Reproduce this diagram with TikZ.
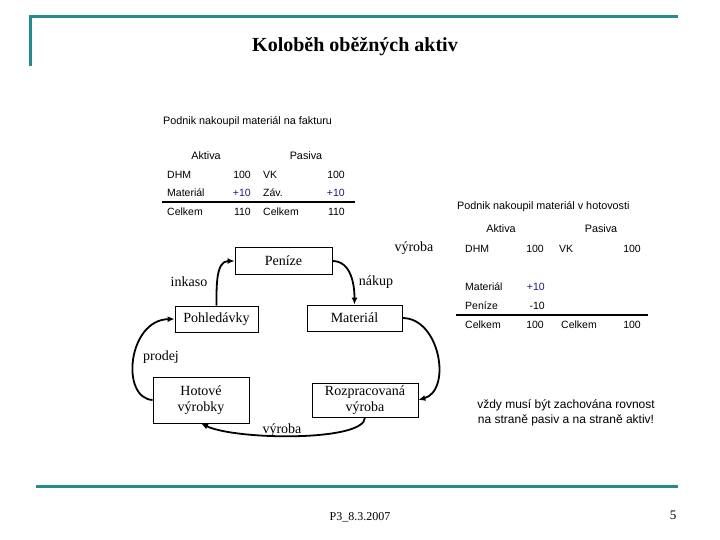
\documentclass[tikz,border=0pt]{standalone}
\usepackage{fontspec}
\setmainfont{Liberation Serif}
\newfontfamily\arialfont{Liberation Sans}
\usepackage{xcolor}
\usetikzlibrary{arrows.meta}

\definecolor{barteal}{RGB}{38,139,139}
\definecolor{numblue}{RGB}{30,30,110}

\begin{document}
\begin{tikzpicture}[
  x=1pt, y=-1pt,
  bar/.style     = {line width=3pt, barteal},
  stock/.style   = {rectangle, draw=black, line width=0.8pt, align=center,
                    inner sep=1pt, font=\fontsize{14}{16.5}\selectfont},
  flowlbl/.style = {inner sep=0pt, font=\fontsize{14}{16}\selectfont},
  captxt/.style  = {anchor=west, inner sep=0pt, font=\arialfont\fontsize{10.8}{12}\selectfont},
  head/.style    = {inner sep=0pt, font=\arialfont\fontsize{10.8}{12}\selectfont},
  cell/.style    = {anchor=west, inner sep=0pt, font=\arialfont\fontsize{10.5}{12}\selectfont},
  num/.style     = {anchor=east, inner sep=0pt, font=\arialfont\fontsize{10.5}{12}\selectfont},
  flow/.style    = {-{Latex[length=7pt,width=6pt]}, line width=1.8pt},
  sumrule/.style = {line width=1.6pt},
]
\useasboundingbox (0,0) rectangle (720,540);

%% ── Slide frame ───────────────────────────────────────────────────
\draw[bar] (30,66) -- (30,17) -- (678,17);
\draw[bar] (36,486) -- (678,486);
\node[font=\bfseries\fontsize{20}{24}\selectfont] (title) at (355,47) {Koloběh oběžných aktiv};
\node[font=\fontsize{12}{14}\selectfont] (foot) at (360,517) {P3\_8.3.2007};
\node[font=\fontsize{13}{15}\selectfont] (page) at (673,515) {5};

%% ── Purchase on invoice ───────────────────────────────────────────
\node[captxt] (capA) at (163,122) {Podnik nakoupil materiál na fakturu};
\node[head] (aktA) at (206,156) {Aktiva};
\node[head] (pasA) at (306,156) {Pasiva};
\node[cell] (a1) at (167,175) {DHM};
\node[num]  (a2) at (251,175) {100};
\node[cell] (a3) at (263,175) {VK};
\node[num]  (a4) at (345,175) {100};
\node[cell] (b1) at (167,193) {Materiál};
\node[num, numblue] (b2) at (251,193) {+10};
\node[cell] (b3) at (263,193) {Záv.};
\node[num, numblue] (b4) at (345,193) {+10};
\node[cell] (c1) at (167,212) {Celkem};
\node[num]  (c2) at (251,212) {110};
\node[cell] (c3) at (263,212) {Celkem};
\node[num]  (c4) at (345,212) {110};
\draw[sumrule] (162,202) -- (355,202);

%% ── Purchase in cash ──────────────────────────────────────────────
\node[captxt] (capB) at (457,207) {Podnik nakoupil materiál v hotovosti};
\node[head] (aktB) at (501,229) {Aktiva};
\node[head] (pasB) at (601,229) {Pasiva};
\node[cell] (d1) at (465,249) {DHM};
\node[num]  (d2) at (544,249) {100};
\node[cell] (d3) at (559,249) {VK};
\node[num]  (d4) at (641,249) {100};
\node[cell] (e1) at (465,287) {Materiál};
\node[num, numblue] (e2) at (545,287) {+10};
\node[cell] (f1) at (465,306) {Peníze};
\node[num]  (f2) at (545,306) {-10};
\node[cell] (g1) at (465,325) {Celkem};
\node[num]  (g2) at (544,325) {100};
\node[cell] (g3) at (561,325) {Celkem};
\node[num]  (g4) at (641,325) {100};
\draw[sumrule] (456,315) -- (648,315);

%% ── Asset cycle ───────────────────────────────────────────────────
\node[stock, minimum width=97pt, minimum height=27pt] (penize) at (283.5,261) {Peníze};
\node[stock, minimum width=83pt, minimum height=26pt] (pohl)   at (216.5,319) {Pohledávky};
\node[stock, minimum width=95pt, minimum height=26pt] (mat)    at (354.5,318) {Materiál};
\node[stock, minimum width=96pt, minimum height=46pt] (hotove) at (201,400)   {Hotové\\výrobky};
\node[stock, minimum width=106pt, minimum height=34pt] (rozpr) at (365,400)   {Rozpracovaná\\výroba};

\node[flowlbl] (inkaso) at (189,282) {inkaso};
\node[flowlbl] (nakup)  at (376,282) {nákup};
\node[flowlbl] (vyrA)   at (414,248) {výroba};
\node[flowlbl] (prodej) at (161,357) {prodej};
\node[flowlbl] (vyrB)   at (282,430) {výroba};

\draw[flow] (pohl.north) to[out=90, in=180] (penize.west);
\draw[flow] (penize.east) to[out=0, in=90] (mat.north);
\draw[flow] (mat.east) .. controls (440,318) and (452,390) .. (rozpr.east);
\draw[flow] (rozpr.south) .. controls (365,442) and (235,440) .. (hotove.south);
\draw[flow] (hotove.west) .. controls (120,398) and (128,320) .. (pohl.west);

%% ── Note ──────────────────────────────────────────────────────────
\node[align=center, inner sep=0pt, font=\arialfont\fontsize{12}{15}\selectfont] (note) at (566,413)
  {vždy musí být zachována rovnost\\na straně pasiv a na straně aktiv!};

\end{tikzpicture}
\end{document}
